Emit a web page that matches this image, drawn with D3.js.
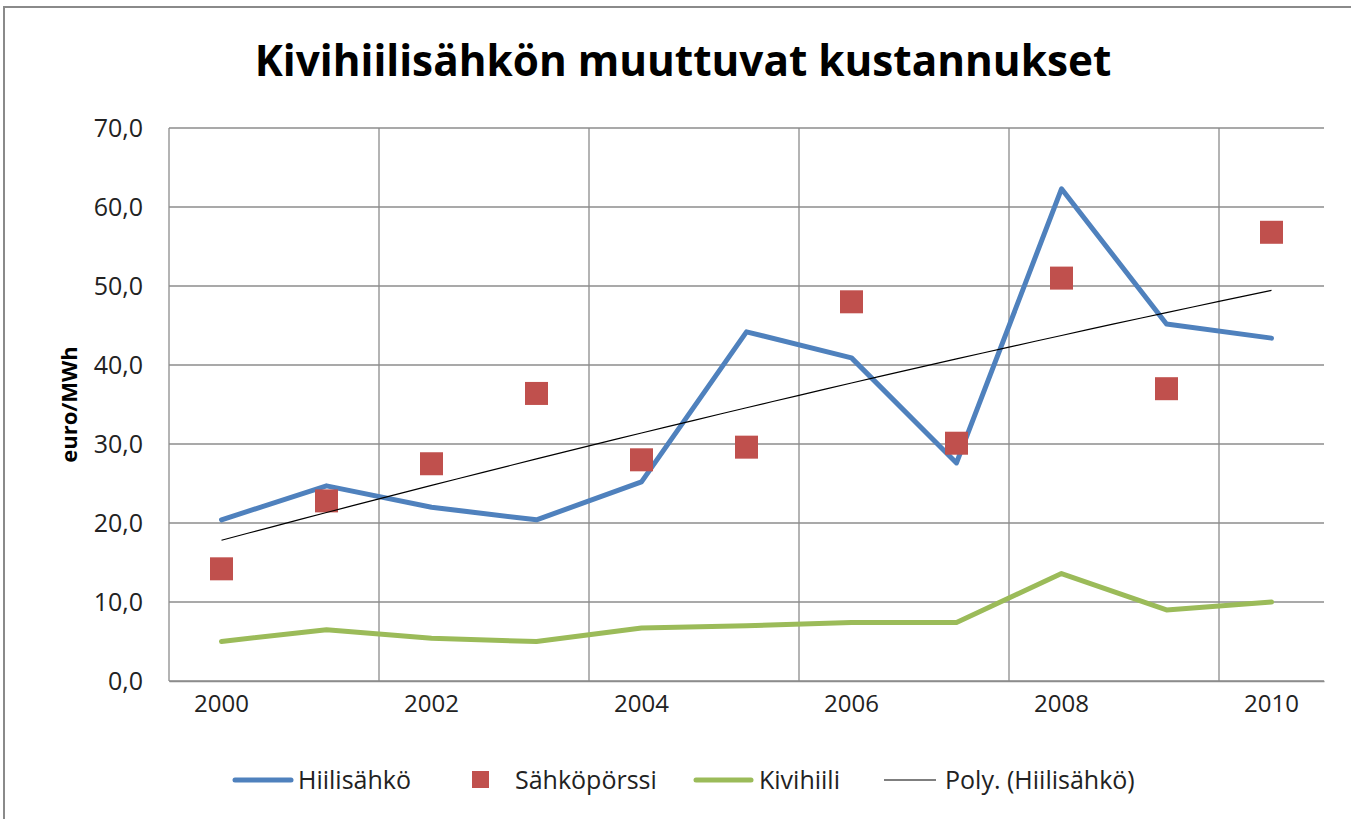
<!DOCTYPE html>
<html lang="fi">
<head>
    <meta charset="UTF-8">
    <title>Kivihiilisähkön muuttuvat kustannukset</title>
    <script src="https://d3js.org/d3.v7.min.js"></script>
    <style>
        body { margin: 0; background: #fff; }
        text { font-family: "Open Sans", "Liberation Sans", sans-serif; fill: #222; }
    </style>
</head>
<body>
<script>
    const years = [2000, 2001, 2002, 2003, 2004, 2005, 2006, 2007, 2008, 2009, 2010]
    const hiilisahko = [20.4, 24.7, 22.0, 20.4, 25.2, 44.2, 40.9, 27.6, 62.3, 45.2, 43.4]
    const sahkoporssi = [14.2, 22.8, 27.5, 36.4, 28.0, 29.6, 48.0, 30.1, 51.0, 37.0, 56.8]
    const kivihiili = [5.0, 6.5, 5.4, 5.0, 6.7, 7.0, 7.4, 7.4, 13.6, 9.0, 10.0]
    const yTicks = [0, 10, 20, 30, 40, 50, 60, 70]
    const xLabels = [2000, 2002, 2004, 2006, 2008, 2010]

    const width = 1351
    const height = 819
    const margin = { top: 128, right: 27, bottom: 138, left: 169 }

    const svg = d3.select('body').append('svg')
        .attr('width', width)
        .attr('height', height)

    // chart frame (only top and left are in view)
    svg.append('rect')
        .attr('x', 4).attr('y', 7)
        .attr('width', width + 10).attr('height', height + 10)
        .attr('fill', 'none')
        .attr('stroke', '#8a8a8a')
        .attr('stroke-width', 2)

    const xScale = d3.scaleBand()
        .domain(years)
        .range([margin.left, width - margin.right])
        .padding(0)

    const yScale = d3.scaleLinear()
        .domain([0, 70])
        .range([height - margin.bottom, margin.top])

    const cx = d => xScale(d) + xScale.bandwidth() / 2

    // horizontal gridlines
    svg.append('g')
        .attr('class', 'y-grid')
        .selectAll('line')
        .data(yTicks)
        .join('line')
        .attr('x1', margin.left)
        .attr('x2', width - margin.right)
        .attr('y1', d => yScale(d))
        .attr('y2', d => yScale(d))
        .attr('stroke', '#8c8c8c')
        .attr('stroke-width', 1.3)

    // vertical gridlines every second category
    svg.append('g')
        .attr('class', 'x-grid')
        .selectAll('line')
        .data(xLabels)
        .join('line')
        .attr('x1', d => xScale(d))
        .attr('x2', d => xScale(d))
        .attr('y1', yScale(70))
        .attr('y2', yScale(0))
        .attr('stroke', '#8c8c8c')
        .attr('stroke-width', 1.3)

    const yAxis = d3.axisLeft(yScale)
        .tickValues(yTicks)
        .tickSize(0)
        .tickPadding(26)
        .tickFormat(d => d3.format('.1f')(d).replace('.', ','))

    svg.append('g')
        .attr('class', 'y-axis')
        .attr('transform', `translate(${margin.left},0)`)
        .call(yAxis)
        .call(g => g.select('.domain').remove())
        .selectAll('text')
        .style('font-size', '25px')

    const xAxis = d3.axisBottom(xScale)
        .tickValues(xLabels)
        .tickSize(0)
        .tickPadding(14)

    svg.append('g')
        .attr('class', 'x-axis')
        .attr('transform', `translate(0,${yScale(0)})`)
        .call(xAxis)
        .call(g => g.select('.domain').attr('stroke', '#8c8c8c').attr('stroke-width', 1.3))
        .selectAll('text')
        .style('font-size', '24px')

    // Hiilisähkö line
    const line = d3.line()
        .x((d, i) => cx(years[i]))
        .y(d => yScale(d))

    svg.append('path')
        .datum(hiilisahko)
        .attr('d', line)
        .attr('fill', 'none')
        .attr('stroke', '#4f81bd')
        .attr('stroke-width', 5)
        .attr('stroke-linejoin', 'round')
        .attr('stroke-linecap', 'round')

    // Sähköpörssi markers
    const ms = 23
    svg.append('g')
        .selectAll('rect')
        .data(sahkoporssi)
        .join('rect')
        .attr('x', (d, i) => cx(years[i]) - ms / 2)
        .attr('y', d => yScale(d) - ms / 2)
        .attr('width', ms)
        .attr('height', ms)
        .attr('fill', '#c0504d')

    // Kivihiili line
    svg.append('path')
        .datum(kivihiili)
        .attr('d', line)
        .attr('fill', 'none')
        .attr('stroke', '#9bbb59')
        .attr('stroke-width', 5)
        .attr('stroke-linejoin', 'round')
        .attr('stroke-linecap', 'round')

    // 2nd order polynomial trendline fitted to Hiilisähkö
    function polyFit(ys) {
        const s = [0, 0, 0, 0, 0], t = [0, 0, 0]
        ys.forEach((y, i) => {
            const x = i + 1
            for (let k = 0; k < 5; k++) s[k] += Math.pow(x, k)
            for (let k = 0; k < 3; k++) t[k] += y * Math.pow(x, k)
        })
        const A = [[s[0], s[1], s[2], t[0]], [s[1], s[2], s[3], t[1]], [s[2], s[3], s[4], t[2]]]
        for (let c = 0; c < 3; c++) {
            for (let r = c + 1; r < 3; r++) {
                const f = A[r][c] / A[c][c]
                for (let k = c; k < 4; k++) A[r][k] -= f * A[c][k]
            }
        }
        const b = [0, 0, 0]
        for (let r = 2; r >= 0; r--) {
            let v = A[r][3]
            for (let k = r + 1; k < 3; k++) v -= A[r][k] * b[k]
            b[r] = v / A[r][r]
        }
        return x => b[0] + b[1] * x + b[2] * x * x
    }
    const fit = polyFit(hiilisahko)
    const trendPts = d3.range(0, 10.01, 0.25).map(i => [xScale(years[0]) + xScale.bandwidth() * (i + 0.5), fit(i + 1)])

    svg.append('path')
        .datum(trendPts)
        .attr('d', d3.line().x(d => d[0]).y(d => yScale(d[1])))
        .attr('fill', 'none')
        .attr('stroke', '#000')
        .attr('stroke-width', 1.2)

    // title
    const title = svg.append('text')
        .attr('x', 683)
        .attr('y', 76)
        .attr('text-anchor', 'middle')
        .style('font-weight', 'bold')
        .style('font-size', '44px')
        .style('fill', '#000')
        .text('Kivihiilisähkön muuttuvat kustannukset')
    const tw = title.node().getComputedTextLength()
    title.style('font-size', (44 * 857 / tw) + 'px')

    // y title
    svg.append('text')
        .attr('transform', `translate(77,${(yScale(0) + yScale(70)) / 2}) rotate(-90)`)
        .attr('text-anchor', 'middle')
        .style('font-weight', 'bold')
        .style('font-size', '22px')
        .style('fill', '#000')
        .text('euro/MWh')

    // legend
    const legendY = 780
    const legend = svg.append('g').attr('class', 'legend')
    const items = [
        { name: 'Hiilisähkö', type: 'line', color: '#4f81bd', w: 5, x0: 233, x1: 293, tx: 298 },
        { name: 'Sähköpörssi', type: 'rect', color: '#c0504d', x0: 472, x1: 489, tx: 515 },
        { name: 'Kivihiili', type: 'line', color: '#9bbb59', w: 5, x0: 694, x1: 753, tx: 759 },
        { name: 'Poly. (Hiilisähkö)', type: 'line', color: '#000', w: 1.2, x0: 882, x1: 938, tx: 945 }
    ]
    items.forEach(it => {
        if (it.type === 'line') {
            legend.append('line')
                .attr('x1', it.x0 + 2).attr('x2', it.x1 - 2)
                .attr('y1', legendY).attr('y2', legendY)
                .attr('stroke', it.color)
                .attr('stroke-width', it.w)
                .attr('stroke-linecap', it.w > 2 ? 'round' : 'butt')
        } else {
            legend.append('rect')
                .attr('x', it.x0).attr('y', legendY - 9)
                .attr('width', it.x1 - it.x0).attr('height', it.x1 - it.x0)
                .attr('fill', it.color)
        }
        legend.append('text')
            .attr('x', it.tx)
            .attr('y', legendY)
            .attr('dy', '0.35em')
            .style('font-size', '25px')
            .text(it.name)
    })
</script>
</body>
</html>
